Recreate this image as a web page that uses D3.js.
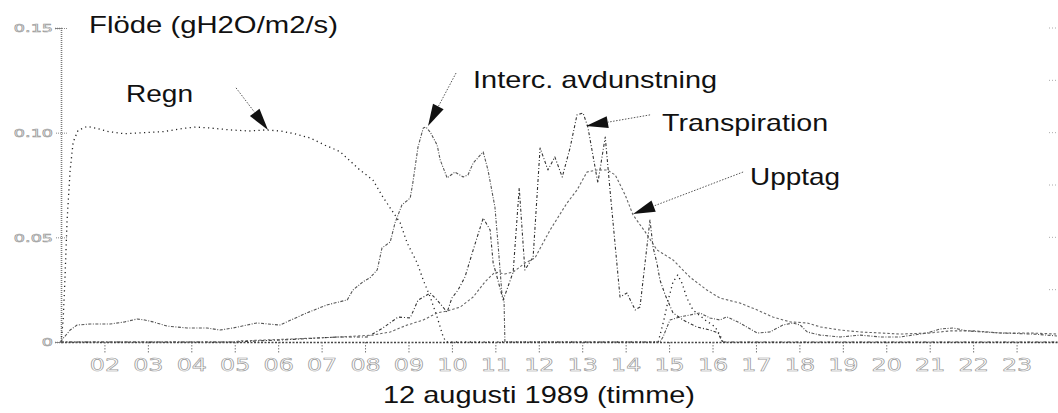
<!DOCTYPE html>
<html><head><meta charset="utf-8">
<script src="https://cdn.jsdelivr.net/npm/d3@7"></script>
<style>
html,body{margin:0;padding:0;background:#fff;}
svg{display:block;}
.lbl{font-family:"Liberation Sans",Arial,sans-serif;fill:#111;}
.tk{font-family:"DejaVu Sans",sans-serif;fill:#fff;stroke:#999;stroke-width:0.6px;}
</style></head>
<body>
<script>
// ---- data (hour of 12 Aug 1989, flux gH2O/m2/s) ----
const hourTicks = [2,3,4,5,6,7,8,9,10,11,12,13,14,15,16,17,18,19,20,21,22,23];
const hourLabels = ["02","03","04","05","06","07","08","09","10","11","12","13","14","15","16","17","18","19","20","21","22","23"];
const yTicks = [0, 0.05, 0.10, 0.15];
const yTickLabels = ["0", "0.05", "0.10", "0.15"];

const regn = [[1.0,0],[1.05,0.0105],[1.09,0.0296],[1.14,0.058],[1.21,0.082],[1.28,0.0955],[1.39,0.101],[1.6,0.103],[1.83,0.102],[2.1,0.1005],[2.45,0.0995],[2.9,0.1],[3.35,0.1005],[3.8,0.102],[4.1,0.1027],[4.45,0.1022],[4.9,0.1013],[5.35,0.1008],[5.7,0.1013],[6.05,0.1008],[6.39,0.0994],[6.73,0.0975],[7.08,0.094],[7.42,0.091],[7.88,0.0822],[8.18,0.0774],[8.41,0.0693],[8.58,0.064],[8.81,0.0569],[8.97,0.0473],[9.2,0.0378],[9.34,0.0296],[9.5,0.0215],[9.66,0.0119],[9.8,0.0024],[9.87,0],[14.75,0],[14.88,0.0105],[14.98,0.02],[15.09,0.0287],[15.2,0.032],[15.3,0.028],[15.41,0.021],[15.55,0.0153],[15.83,0.0105],[16.06,0.0072],[16.17,0.0033],[16.24,0]];

const interc = [[1.0,0],[1.02,0.001],[1.21,0.0057],[1.37,0.0081],[1.67,0.0086],[2.13,0.0086],[2.47,0.0096],[2.75,0.011],[2.93,0.0105],[3.12,0.0096],[3.44,0.0076],[3.9,0.0067],[4.36,0.0067],[4.66,0.0057],[4.96,0.0067],[5.51,0.0091],[6.04,0.0081],[6.2,0.0096],[6.66,0.0139],[7.12,0.0177],[7.59,0.0201],[7.72,0.0248],[7.95,0.0287],[8.11,0.0306],[8.28,0.0344],[8.39,0.0449],[8.58,0.0478],[8.69,0.0569],[8.85,0.0655],[9.04,0.0688],[9.1,0.076],[9.22,0.0932],[9.34,0.1022],[9.4,0.1027],[9.5,0.1003],[9.66,0.0941],[9.73,0.087],[9.89,0.0784],[10.07,0.0812],[10.26,0.0788],[10.37,0.0798],[10.49,0.0855],[10.72,0.0908],[10.83,0.0822],[10.99,0.0645],[11.06,0.0473],[11.15,0.0234],[11.2,0.02],[11.22,0],[14.79,0],[14.86,0.0024],[15.02,0.0105],[15.25,0.012],[15.48,0.0129],[15.71,0.0139],[15.94,0.0115],[16.17,0.0105],[16.33,0.012],[16.63,0.0091],[17.03,0.0043],[17.32,0.0048],[17.62,0.0081],[17.85,0.0091],[18.02,0.0081],[18.18,0.0048],[18.48,0.0033],[18.94,0.0024],[19.4,0.0033],[19.86,0.0024],[20.32,0.0024],[20.94,0.0043],[21.24,0.0062],[21.54,0.0067],[21.86,0.0053],[22.23,0.0048],[22.62,0.0043],[23.38,0.0038],[23.93,0.0029]];

const transp = [[1,0],[5,0],[5.5,0.0005],[6.3,0.0012],[7,0.002],[7.42,0.0024],[8.05,0.0024],[8.41,0.0067],[8.76,0.0119],[9.04,0.0115],[9.22,0.02],[9.5,0.0234],[9.66,0.02],[9.89,0.0143],[10.0,0.021],[10.14,0.0248],[10.3,0.031],[10.49,0.044],[10.72,0.0592],[10.88,0.0535],[10.95,0.0377],[11.04,0.031],[11.18,0.02],[11.41,0.0334],[11.55,0.0736],[11.68,0.0344],[11.87,0.0406],[12.03,0.0927],[12.21,0.0822],[12.37,0.0884],[12.54,0.0788],[12.72,0.0927],[12.88,0.1085],[13.02,0.1094],[13.13,0.1027],[13.36,0.076],[13.53,0.0979],[13.64,0.0726],[13.87,0.0215],[14.03,0.0234],[14.22,0.0153],[14.33,0.0167],[14.56,0.0583],[14.63,0.0454],[14.72,0.0377],[14.79,0.0296],[14.91,0.0225],[15.09,0.0139],[15.32,0.0105],[15.64,0.0072],[15.94,0.0057],[16.13,0.0043],[16.22,0],[24,0]];

const upptag = [[1,0],[5,0],[5.12,0.0005],[6.27,0.0014],[7.42,0.0024],[8.18,0.0033],[8.58,0.0048],[8.97,0.0081],[9.34,0.0105],[9.66,0.0139],[9.89,0.0148],[10.19,0.0167],[10.49,0.0215],[10.76,0.0287],[10.99,0.0334],[11.22,0.0325],[11.41,0.0334],[11.68,0.0377],[11.91,0.0401],[12.26,0.0535],[12.65,0.0664],[12.88,0.0726],[13.11,0.0812],[13.34,0.0822],[13.57,0.0822],[13.76,0.0798],[13.99,0.0702],[14.17,0.0607],[14.45,0.0526],[14.72,0.044],[15.09,0.0392],[15.48,0.031],[15.87,0.0248],[16.17,0.021],[16.63,0.0186],[17.03,0.0153],[17.39,0.0119],[17.79,0.0096],[18.18,0.0091],[18.48,0.0072],[18.94,0.0057],[19.4,0.0048],[19.86,0.0043],[20.32,0.0038],[21.01,0.0043],[21.47,0.0053],[22.05,0.0053],[22.62,0.0043],[23.31,0.0043],[23.93,0.0038]];

// annotations: label anchor (hour, value), arrow from -> tip (hour, value)
const annLabels = ["Regn", "Interc. avdunstning", "Transpiration", "Upptag"];
const annText   = [[2.497,0.1147],[10.487,0.1214],[14.84,0.1008],[16.865,0.075]];
const annFrom   = [[5.03,0.1214],[10.095,0.1285],[14.562,0.1085],[16.704,0.0812]];
const annTip    = [[5.766,0.1013],[9.45,0.1032],[13.088,0.1032],[14.17,0.0612]];

const W = 1058, H = 413;
const svg = d3.select("body").append("svg").attr("width", W).attr("height", H);

const x = d3.scaleLinear().domain([1, 24]).range([61, 1060]);
const y = d3.scaleLinear().domain([0, 0.15]).range([342, 28]);

// right-side faint ticks
svg.append("g").selectAll("line").data(d3.range(0.025, 0.1501, 0.025)).join("line")
  .attr("x1", 1049).attr("x2", 1058).attr("y1", d => y(d)).attr("y2", d => y(d))
  .attr("stroke", "#aaa").attr("stroke-width", 1).attr("stroke-dasharray", "1,2");

// y axis
const yAxis = d3.axisLeft(y).tickValues(yTicks).tickSize(6)
  .tickFormat((d, i) => yTickLabels[i]);
const gy = svg.append("g").attr("transform", `translate(${x(1)},0)`).call(yAxis);
gy.select(".domain").attr("stroke", "#7a7a7a").attr("stroke-width", 1.6).attr("stroke-dasharray", "1,1");
gy.selectAll(".tick line").attr("stroke", "#8a8a8a").attr("stroke-dasharray", "1,1")
  .attr("x2", -6).attr("x1", d => d === 0 ? 0 : 6);
gy.selectAll(".tick text").attr("class", "tk").attr("x", 0).attr("dy", "0.35em")
  .attr("text-anchor", "end").style("font-size", "11px")
  .attr("transform", "translate(-8,0) scale(1.6,1)");

// x axis
const xAxis = d3.axisBottom(x).tickValues(hourTicks).tickSize(11)
  .tickFormat((d, i) => hourLabels[i]).tickSizeOuter(0);
const gx = svg.append("g").attr("transform", `translate(0,${y(0)})`).call(xAxis);
gx.select(".domain").attr("stroke", "#444").attr("stroke-width", 1.3).attr("stroke-dasharray", "2,1.5");
gx.selectAll(".tick line").attr("stroke", "#777").attr("stroke-dasharray", "1.5,1.5");
gx.selectAll(".tick text").attr("class", "tk").attr("y", 0).attr("dy", 0)
  .style("font-size", "17px")
  .attr("transform", "translate(0,29) scale(1.4,1)");

// series
const line = d3.line().x(d => x(d[0])).y(d => y(d[1]));
const series = [
  {data: regn,   stroke: "#222", w: 1.3, dash: "1.2,3.4"},
  {data: interc, stroke: "#555", w: 1.1, dash: "3,1.5,1,1.5"},
  {data: transp, stroke: "#333", w: 1.1, dash: "3,2,1,2"},
  {data: upptag, stroke: "#666", w: 1.1, dash: "2.5,2"}
];
svg.append("g").selectAll("path").data(series).join("path")
  .attr("d", d => line(d.data)).attr("fill", "none")
  .attr("stroke", d => d.stroke).attr("stroke-width", d => d.w)
  .attr("stroke-dasharray", d => d.dash).attr("stroke-linejoin", "round");

// annotation arrows
const ag = svg.append("g");
annTip.forEach((t, i) => {
  const fx = x(annFrom[i][0]), fy = y(annFrom[i][1]);
  const tx = x(t[0]), ty = y(t[1]);
  const dx = tx - fx, dy = ty - fy, L = Math.hypot(dx, dy);
  const ux = dx / L, uy = dy / L;
  const hl = 22, hw = 6;
  const bx = tx - ux * hl, by = ty - uy * hl;
  ag.append("line").attr("x1", fx).attr("y1", fy).attr("x2", bx).attr("y2", by)
    .attr("stroke", "#555").attr("stroke-width", 1).attr("stroke-dasharray", "1.5,1.5");
  ag.append("path")
    .attr("d", `M${tx},${ty}L${bx - uy * hw},${by + ux * hw}L${bx + uy * hw},${by - ux * hw}Z`)
    .attr("fill", "#111");
});

// annotation labels
const annWidths = [67, 244, 166, 90];
ag.selectAll("text.ann").data(annLabels).join("text").attr("class", "lbl ann")
  .attr("x", (d, i) => x(annText[i][0])).attr("y", (d, i) => y(annText[i][1]))
  .style("font-size", "24px").attr("textLength", (d, i) => annWidths[i])
  .attr("lengthAdjust", "spacingAndGlyphs").text(d => d);

// title & x label
svg.append("text").attr("class", "lbl").attr("x", 89).attr("y", 33)
  .style("font-size", "24px").attr("textLength", 249).attr("lengthAdjust", "spacingAndGlyphs")
  .text("Flöde (gH2O/m2/s)");
svg.append("text").attr("class", "lbl").attr("x", 383).attr("y", 403)
  .style("font-size", "24px").attr("textLength", 312).attr("lengthAdjust", "spacingAndGlyphs")
  .text("12 augusti 1989 (timme)");
</script>
</body></html>
